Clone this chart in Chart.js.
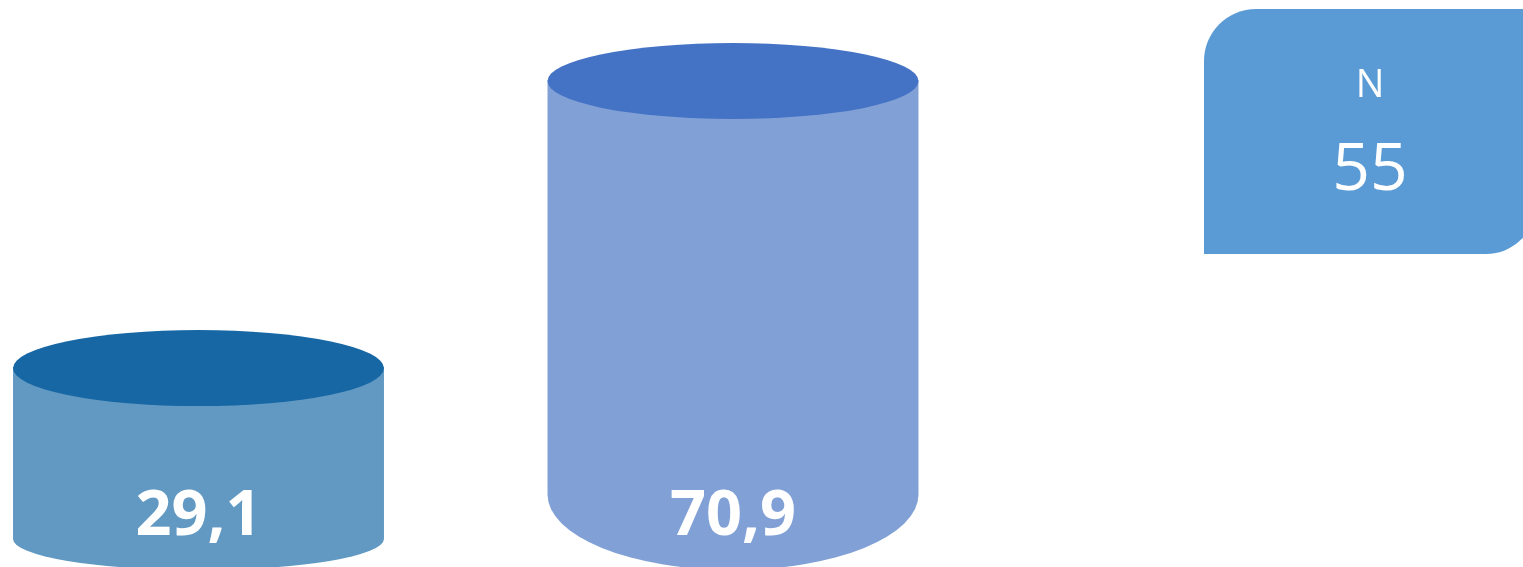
<!DOCTYPE html>
<html><head><meta charset="utf-8">
<script src="https://cdn.jsdelivr.net/npm/chart.js@4/dist/chart.umd.min.js"></script>
<style>html,body{margin:0;padding:0;background:#fff;overflow:hidden}</style>
</head><body>
<canvas id="c" width="1523" height="567"></canvas>
<script>
// ---- data ----
const categories = ['A', 'B'];
const values = [29.1, 70.9];
const totalLabel = 'N';
const totalValue = 55;

// ---- styles ----
const bodyColors = ['#6199C3', '#80A0D6'];
const topColors = ['#1767A5', '#4472C4'];
const boxColor = '#5B9BD5';
const fmt = v => v.toFixed(1).replace('.', ',');

const cylinderPlugin = {
  id: 'cylinders',
  afterDatasetsDraw(chart) {
    const ctx = chart.ctx;
    const meta = chart.getDatasetMeta(0);
    const base = chart.scales.y.getPixelForValue(0);
    meta.data.forEach((bar, i) => {
      const p = bar.getProps(['x', 'y', 'width'], true);
      const x = p.x, y = p.y, rx = p.width / 2;
      const ryTop = 38;
      const h = base - y;
      const ryBot = h * 0.155;
      const botC = base - ryBot + 3;
      ctx.save();
      ctx.fillStyle = bodyColors[i];
      ctx.beginPath();
      ctx.moveTo(x - rx, y);
      ctx.lineTo(x - rx, botC);
      ctx.ellipse(x, botC, rx, ryBot, 0, Math.PI, 0, true);
      ctx.lineTo(x + rx, y);
      ctx.closePath();
      ctx.fill();
      ctx.fillStyle = topColors[i];
      ctx.beginPath();
      ctx.ellipse(x, y + 1, rx, ryTop, 0, 0, Math.PI * 2);
      ctx.fill();
      ctx.fillStyle = '#FFFFFF';
      ctx.font = 'bold 63px "Open Sans"';
      ctx.textAlign = 'center';
      ctx.textBaseline = 'alphabetic';
      ctx.fillText(fmt(values[i]), x, base - 32);
      ctx.restore();
    });
  },
  afterDraw(chart) {
    const ctx = chart.ctx;
    const l = 1204, t = 9, r = 1536, b = 254, rTL = 52, rBR = 50;
    ctx.save();
    ctx.fillStyle = boxColor;
    ctx.beginPath();
    ctx.moveTo(l + rTL, t);
    ctx.lineTo(r, t);
    ctx.lineTo(r, b - rBR);
    ctx.arc(r - rBR, b - rBR, rBR, 0, Math.PI / 2);
    ctx.lineTo(l, b);
    ctx.lineTo(l, t + rTL);
    ctx.arc(l + rTL, t + rTL, rTL, Math.PI, Math.PI * 1.5);
    ctx.closePath();
    ctx.fill();
    ctx.fillStyle = '#FFFFFF';
    ctx.textAlign = 'center';
    ctx.textBaseline = 'alphabetic';
    ctx.font = '38px "Open Sans"';
    ctx.fillText(totalLabel, 1370, 97);
    ctx.font = '66px "Open Sans"';
    ctx.fillText(String(totalValue), 1370, 190);
    ctx.restore();
  }
};

new Chart(document.getElementById('c'), {
  type: 'bar',
  data: {
    labels: categories,
    datasets: [{
      data: values,
      backgroundColor: 'rgba(0,0,0,0)',
      borderWidth: 0,
      categoryPercentage: 1,
      barPercentage: 0.694
    }]
  },
  options: {
    responsive: false,
    animation: false,
    layout: { padding: { left: 198.5, right: 790, top: 17.5, bottom: 0 } },
    plugins: { legend: { display: false }, tooltip: { enabled: false } },
    scales: {
      x: { display: false, offset: false },
      y: { display: false, min: 0, max: 80 }
    }
  },
  plugins: [cylinderPlugin]
});
</script>
</body></html>
